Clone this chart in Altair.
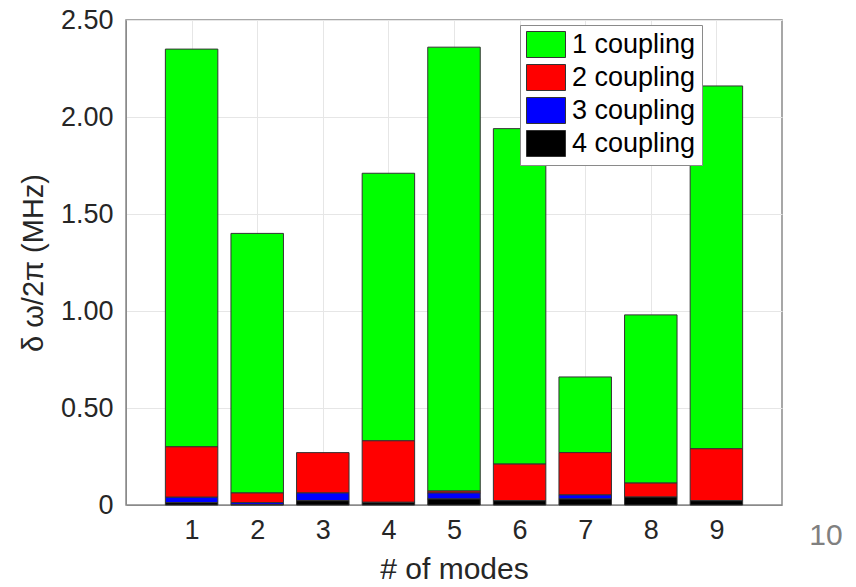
import altair as alt
import pandas as pd

# Mode index and the contribution of each coupling order (MHz)
modes = [1, 2, 3, 4, 5, 6, 7, 8, 9]
series = ["1 coupling", "2 coupling", "3 coupling", "4 coupling"]
coupling1 = [2.050, 1.338, 0.000, 1.379, 2.288, 1.729, 0.390, 0.867, 1.870]
coupling2 = [0.260, 0.050, 0.208, 0.317, 0.010, 0.189, 0.218, 0.072, 0.268]
coupling3 = [0.028, 0.010, 0.040, 0.002, 0.031, 0.000, 0.021, 0.000, 0.000]
coupling4 = [0.012, 0.002, 0.022, 0.012, 0.031, 0.022, 0.031, 0.041, 0.022]
colors = ["#00ff00", "#ff0000", "#0000ff", "#000000"]
y_ticks = [0, 0.5, 1.0, 1.5, 2.0, 2.5]
page_number = ["10"]

values = [coupling1, coupling2, coupling3, coupling4]
rows = []
for s_idx, (name, vals) in enumerate(zip(series, values)):
    for m, v in zip(modes, vals):
        # higher coupling orders sit at the bottom of each stack
        rows.append({"mode": m, "series": name, "value": v, "layer": 3 - s_idx})
df = pd.DataFrame(rows)

FONT = "Liberation Sans"
GRAY = "#8a8a8a"
TEXT = "#262626"

bars = (
    alt.Chart(df)
    .transform_filter("datum.value > 0")
    .transform_stack(
        stack="value",
        groupby=["mode"],
        as_=["y0", "y1"],
        sort=[alt.SortField("layer", order="ascending")],
    )
    .transform_calculate(xa="datum.mode - 0.4", xb="datum.mode + 0.4")
    .mark_bar(stroke="#333333", strokeWidth=1)
    .encode(
        x=alt.X(
            "xa:Q",
            scale=alt.Scale(domain=[0, 10], nice=False, zero=False),
            axis=alt.Axis(
                values=modes,
                title="# of modes",
                format="d",
                labelFontSize=27,
                titleFontSize=30,
                labelPadding=12,
                titlePadding=11,
                ticks=False,
                grid=True,
                gridColor="#e6e6e6",
                domainColor=GRAY,
                labelColor=TEXT,
                titleColor=TEXT,
                labelFont=FONT,
                titleFont=FONT,
                titleFontWeight="normal",
            ),
        ),
        x2="xb:Q",
        y=alt.Y(
            "y0:Q",
            scale=alt.Scale(domain=[0, 2.5], nice=False),
            axis=alt.Axis(
                values=y_ticks,
                labelExpr="datum.value == 0 ? '0' : format(datum.value, '.2f')",
                title="δ ω/2π (MHz)",
                labelFontSize=27,
                titleFontSize=29,
                labelPadding=13,
                titlePadding=12,
                ticks=False,
                grid=True,
                gridColor="#e6e6e6",
                domainColor=GRAY,
                labelColor=TEXT,
                titleColor=TEXT,
                labelFont=FONT,
                titleFont=FONT,
                titleFontWeight="normal",
            ),
        ),
        y2="y1:Q",
        color=alt.Color(
            "series:N",
            scale=alt.Scale(domain=series, range=colors),
            legend=alt.Legend(
                title=None,
                orient="none",
                legendX=394,
                legendY=5,
                # wide swatch: 3 units across, 2 units tall
                symbolType="M-1,-1L2,-1L2,1L-1,1Z",
                symbolSize=676,
                symbolStrokeColor="#333333",
                symbolStrokeWidth=1,
                symbolOpacity=1,
                labelFontSize=27,
                labelFont=FONT,
                labelColor="#000000",
                labelOffset=19,
                rowPadding=2,
                padding=6,
                strokeColor=GRAY,
                fillColor="#ffffff",
            ),
        ),
    )
)

page = (
    alt.Chart(pd.DataFrame({"t": page_number}))
    .mark_text(fontSize=30, font=FONT, color="#808080", align="center", baseline="middle")
    .encode(text="t:N", x=alt.value(700), y=alt.value(516))
)

chart = (
    alt.layer(bars, page)
    .properties(
        width=656,
        height=485,
        autosize=alt.AutoSizeParams(type="none"),
        padding={"left": 126, "top": 20, "right": 74, "bottom": 82},
        background="#ffffff",
    )
    .configure_view(stroke=GRAY, strokeWidth=1.5)
)

chart.save("out.html", embed_options={"renderer": "svg", "actions": False})
